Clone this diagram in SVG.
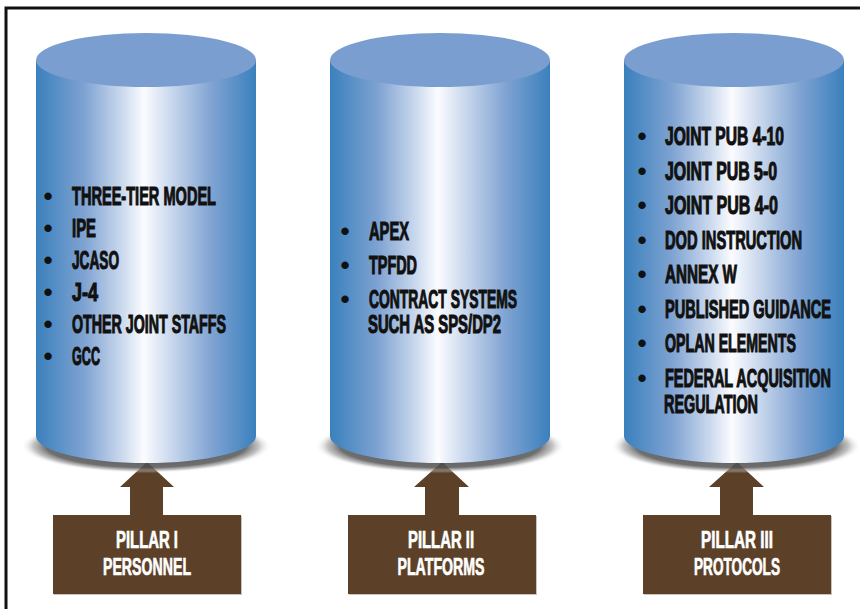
<svg xmlns="http://www.w3.org/2000/svg" width="860" height="609" viewBox="0 0 860 609">
<defs>
<linearGradient id="body" x1="0" y1="0" x2="1" y2="0">
<stop offset="0" stop-color="#3a80bd"/>
<stop offset="0.22" stop-color="#7fa3d2"/>
<stop offset="0.4" stop-color="#cfdcef"/>
<stop offset="0.49" stop-color="#fbfcff"/>
<stop offset="0.6" stop-color="#cfdcef"/>
<stop offset="0.8" stop-color="#7fa3d2"/>
<stop offset="1" stop-color="#3a80bd"/>
</linearGradient>
<radialGradient id="shadow" cx="0.5" cy="0.5" r="0.5">
<stop offset="0" stop-color="#333" stop-opacity="0.9"/>
<stop offset="0.8" stop-color="#555" stop-opacity="0.85"/>
<stop offset="0.9" stop-color="#999" stop-opacity="0.6"/>
<stop offset="1" stop-color="#fff" stop-opacity="0"/>
</radialGradient>
<style>
.top{fill:#7b9ed0}
.body{fill:url(#body)}
.shadow{fill:url(#shadow)}
.box{fill:#5c4128}
.boxedge{fill:#c9c3bb}
.arrow{fill:#5c4128}
.item{font-family:"Liberation Sans",Arial,sans-serif;font-weight:bold;font-size:25px;fill:#111;stroke:#111;stroke-width:1.1}
.bul{font-family:"Liberation Sans",Arial,sans-serif;font-weight:bold;font-size:26px;fill:#111;text-anchor:middle}
.lbl{font-family:"Liberation Sans",Arial,sans-serif;font-weight:bold;font-size:23px;fill:#fff;stroke:#fff;stroke-width:0.7;text-anchor:middle}
</style>
</defs>
<rect x="0" y="0" width="860" height="609" fill="#fff"/>
<rect x="6" y="8" width="880" height="640" fill="none" stroke="#111" stroke-width="3"/>

<g id="connectors">
<path class="arrow" d="M130,516 V487 H120 L147,462 L174,487 H163 V516 Z"/>
<path class="arrow" d="M425,516 V487 H414 L442,462 L469,487 H459 V516 Z"/>
<path class="arrow" d="M720,516 V487 H709 L737,462 L764,487 H753 V516 Z"/>
</g>

<g id="pillar1">
<ellipse class="shadow" cx="146" cy="446" rx="125" ry="27"/>
<path class="body" d="M36,60 V436 A110,27 0 0 0 256,436 V60 Z"/>
<ellipse class="top" cx="146" cy="60" rx="110" ry="27"/>
<text class="bul" x="48" y="205">•</text><text class="item" transform="translate(72 205) scale(0.63 1)" textLength="228.6" lengthAdjust="spacingAndGlyphs">THREE-TIER MODEL</text>
<text class="bul" x="48" y="237">•</text><text class="item" transform="translate(72 237) scale(0.63 1)" textLength="38" lengthAdjust="spacingAndGlyphs">IPE</text>
<text class="bul" x="48" y="269">•</text><text class="item" transform="translate(72 269) scale(0.63 1)" textLength="74.6" lengthAdjust="spacingAndGlyphs">JCASO</text>
<text class="bul" x="48" y="301">•</text><text class="item" transform="translate(72 301) scale(0.63 1)" textLength="41.3" lengthAdjust="spacingAndGlyphs">J-4</text>
<text class="bul" x="48" y="333">•</text><text class="item" transform="translate(72 333) scale(0.63 1)" textLength="244.4" lengthAdjust="spacingAndGlyphs">OTHER JOINT STAFFS</text>
<text class="bul" x="48" y="365">•</text><text class="item" transform="translate(72 365) scale(0.63 1)" textLength="44.4" lengthAdjust="spacingAndGlyphs">GCC</text>
</g>

<g id="pillar2">
<ellipse class="shadow" cx="440" cy="446" rx="125" ry="27"/>
<path class="body" d="M330,60 V436 A110,27 0 0 0 550,436 V60 Z"/>
<ellipse class="top" cx="440" cy="60" rx="110" ry="27"/>
<text class="bul" x="345" y="240">•</text><text class="item" transform="translate(369 240) scale(0.63 1)" textLength="63.5" lengthAdjust="spacingAndGlyphs">APEX</text>
<text class="bul" x="345" y="274">•</text><text class="item" transform="translate(369 274) scale(0.63 1)" textLength="76.2" lengthAdjust="spacingAndGlyphs">TPFDD</text>
<text class="bul" x="345" y="308">•</text><text class="item" transform="translate(369 308) scale(0.63 1)" textLength="234.9" lengthAdjust="spacingAndGlyphs">CONTRACT SYSTEMS</text>
<text class="item" transform="translate(368 333) scale(0.63 1)" textLength="211.1" lengthAdjust="spacingAndGlyphs">SUCH AS SPS/DP2</text>
</g>

<g id="pillar3">
<ellipse class="shadow" cx="736" cy="446" rx="125" ry="27"/>
<path class="body" d="M624,60 V436 A110,27 0 0 0 844,436 V60 Z"/>
<ellipse class="top" cx="734" cy="60" rx="110" ry="27"/>
<text class="bul" x="642" y="145">•</text><text class="item" transform="translate(665 145) scale(0.63 1)" textLength="188.9" lengthAdjust="spacingAndGlyphs">JOINT PUB 4-10</text>
<text class="bul" x="642" y="180">•</text><text class="item" transform="translate(665 180) scale(0.63 1)" textLength="177.8" lengthAdjust="spacingAndGlyphs">JOINT PUB 5-0</text>
<text class="bul" x="642" y="214">•</text><text class="item" transform="translate(665 214) scale(0.63 1)" textLength="179.4" lengthAdjust="spacingAndGlyphs">JOINT PUB 4-0</text>
<text class="bul" x="642" y="249">•</text><text class="item" transform="translate(665 249) scale(0.63 1)" textLength="217.5" lengthAdjust="spacingAndGlyphs">DOD INSTRUCTION</text>
<text class="bul" x="642" y="283">•</text><text class="item" transform="translate(665 283) scale(0.63 1)" textLength="114.3" lengthAdjust="spacingAndGlyphs">ANNEX W</text>
<text class="bul" x="642" y="318">•</text><text class="item" transform="translate(665 318) scale(0.63 1)" textLength="263.5" lengthAdjust="spacingAndGlyphs">PUBLISHED GUIDANCE</text>
<text class="bul" x="642" y="352">•</text><text class="item" transform="translate(665 352) scale(0.63 1)" textLength="207.9" lengthAdjust="spacingAndGlyphs">OPLAN ELEMENTS</text>
<text class="bul" x="642" y="387">•</text><text class="item" transform="translate(665 387) scale(0.63 1)" textLength="263.5" lengthAdjust="spacingAndGlyphs">FEDERAL ACQUISITION</text>
<text class="item" transform="translate(664 413) scale(0.63 1)" textLength="149.2" lengthAdjust="spacingAndGlyphs">REGULATION</text>
</g>

<g id="box1">
<rect class="boxedge" x="54" y="516" width="188" height="79"/>
<rect class="box" x="53" y="515" width="188" height="79"/>
<text class="lbl" transform="translate(147 548) scale(0.62 1)" textLength="100" lengthAdjust="spacingAndGlyphs">PILLAR I</text>
<text class="lbl" transform="translate(147 575) scale(0.62 1)" textLength="142" lengthAdjust="spacingAndGlyphs">PERSONNEL</text>
</g>
<g id="box2">
<rect class="boxedge" x="349" y="516" width="188" height="79"/>
<rect class="box" x="348" y="515" width="188" height="79"/>
<text class="lbl" transform="translate(441 548) scale(0.62 1)" textLength="106.5" lengthAdjust="spacingAndGlyphs">PILLAR II</text>
<text class="lbl" transform="translate(441 575) scale(0.62 1)" textLength="140.3" lengthAdjust="spacingAndGlyphs">PLATFORMS</text>
</g>
<g id="box3">
<rect class="boxedge" x="644" y="516" width="188" height="79"/>
<rect class="box" x="643" y="515" width="188" height="79"/>
<text class="lbl" transform="translate(737 548) scale(0.62 1)" textLength="116" lengthAdjust="spacingAndGlyphs">PILLAR III</text>
<text class="lbl" transform="translate(737 575) scale(0.62 1)" textLength="138.7" lengthAdjust="spacingAndGlyphs">PROTOCOLS</text>
</g>
</svg>
